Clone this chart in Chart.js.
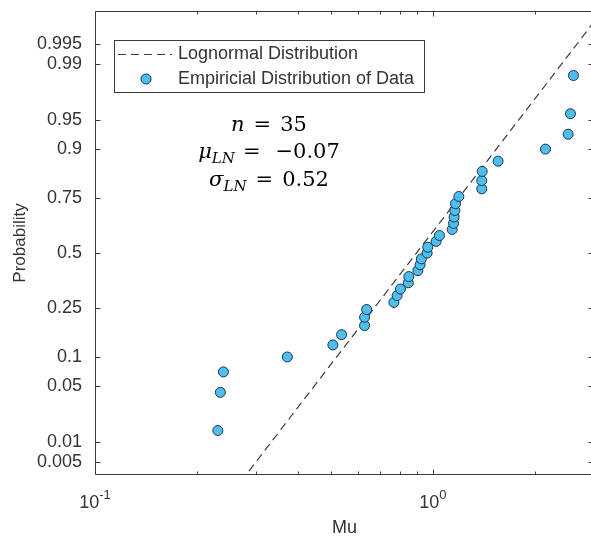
<!DOCTYPE html>
<html>
<head>
<meta charset="utf-8">
<script src="https://cdn.jsdelivr.net/npm/chart.js@4"></script>
<style>
html,body{margin:0;padding:0;overflow:hidden;background:#fff}
#wrap{width:600px;height:537px}
</style>
</head>
<body>
<div id="wrap"><canvas id="c" width="600" height="537"></canvas></div>
<script>
// ---------- data ----------
const muValues = [0.231, 0.235, 0.240, 0.371, 0.506, 0.537, 0.628, 0.628, 0.637, 0.767,
                  0.784, 0.802, 0.846, 0.849, 0.903, 0.917, 0.925, 0.962, 0.966, 1.023,
                  1.046, 1.141, 1.152, 1.156, 1.162, 1.167, 1.194, 1.396, 1.396, 1.400,
                  1.560, 2.155, 2.515, 2.555, 2.608];
const empiricalProb = [0.0143, 0.0429, 0.0714, 0.1000, 0.1286, 0.1571, 0.1857, 0.2143, 0.2429, 0.2714,
                       0.3000, 0.3286, 0.3571, 0.3857, 0.4143, 0.4429, 0.4714, 0.5000, 0.5286, 0.5571,
                       0.5857, 0.6143, 0.6429, 0.6714, 0.7000, 0.7286, 0.7571, 0.7857, 0.8143, 0.8429,
                       0.8714, 0.9000, 0.9286, 0.9571, 0.9857];
const lognormalLineMu = [0.2856, 3.0];
const lognormalLineProb = [0.00359, 0.99782];
const seriesLabels = ['Lognormal Distribution', 'Empiricial Distribution of Data'];
const yTickProbs = [0.005, 0.01, 0.05, 0.1, 0.25, 0.5, 0.75, 0.9, 0.95, 0.99, 0.995];
const yTickLabels = ['0.005', '0.01', '0.05', '0.1', '0.25', '0.5', '0.75', '0.9', '0.95', '0.99', '0.995'];
const yRangeProb = [0.0031, 0.99858];
const xRange = [0.1, 3];
const xMajorTicks = [0.1, 1];
const xMajorExponents = ['-1', '0'];
const xMinorTicks = [0.2, 0.3, 0.4, 0.5, 0.6, 0.7, 0.8, 0.9, 2, 3];
const statN = '35';
const statMu = '\u22120.07';
const statSigma = '0.52';

// ---------- helpers ----------
function probit(p) {
  const a=[-3.969683028665376e+01,2.209460984245205e+02,-2.759285104469687e+02,1.383577518672690e+02,-3.066479806614716e+01,2.506628277459239e+00];
  const b=[-5.447609879822406e+01,1.615858368580409e+02,-1.556989798598866e+02,6.680131188771972e+01,-1.328068155288572e+01];
  const c=[-7.784894002430293e-03,-3.223964580411365e-01,-2.400758277161838e+00,-2.549732539343734e+00,4.374664141464968e+00,2.938163982698783e+00];
  const d=[7.784695709041462e-03,3.224671290700398e-01,2.445134137142996e+00,3.754408661907416e+00];
  const pl=0.02425, ph=1-pl; let q, r;
  if (p < pl) { q=Math.sqrt(-2*Math.log(p)); return (((((c[0]*q+c[1])*q+c[2])*q+c[3])*q+c[4])*q+c[5])/((((d[0]*q+d[1])*q+d[2])*q+d[3])*q+1); }
  if (p <= ph) { q=p-0.5; r=q*q; return (((((a[0]*r+a[1])*r+a[2])*r+a[3])*r+a[4])*r+a[5])*q/(((((b[0]*r+b[1])*r+b[2])*r+b[3])*r+b[4])*r+1); }
  q=Math.sqrt(-2*Math.log(1-p)); return -(((((c[0]*q+c[1])*q+c[2])*q+c[3])*q+c[4])*q+c[5])/((((d[0]*q+d[1])*q+d[2])*q+d[3])*q+1);
}

const AXIS = '#3a3a3a';
const TEXT = '#333333';
const SANS = '"Liberation Sans", Arial, sans-serif';
const SERIF = '"DejaVu Serif", "Liberation Serif", serif';

const scatterData = muValues.map((x, i) => ({ x: x, y: probit(empiricalProb[i]) }));
const lineData = lognormalLineMu.map((x, i) => ({ x: x, y: probit(lognormalLineProb[i]) }));

const decorPlugin = {
  id: 'decor',
  afterDraw(chart) {
    const ctx = chart.ctx;
    const xs = chart.scales.x, ys = chart.scales.y;
    const L = Math.round(xs.left) + 0.5, R = Math.round(xs.right) - 0.5;
    const T = Math.round(ys.top) + 0.5, B = Math.round(ys.bottom) - 0.5;
    ctx.save();
    ctx.strokeStyle = AXIS; ctx.lineWidth = 1; ctx.setLineDash([]);
    // box
    ctx.beginPath();
    ctx.moveTo(L, T); ctx.lineTo(R, T); ctx.lineTo(R, B); ctx.lineTo(L, B); ctx.closePath();
    ctx.stroke();
    // y ticks (left and right, inward)
    ctx.beginPath();
    ys.ticks.forEach(t => {
      const y = Math.round(ys.getPixelForValue(t.value)) + 0.5;
      ctx.moveTo(L, y); ctx.lineTo(L + 5, y);
      ctx.moveTo(R, y); ctx.lineTo(R - 5, y);
    });
    // x ticks (bottom and top, inward)
    xs.ticks.forEach(t => {
      const x = Math.round(xs.getPixelForValue(t.value)) + 0.5;
      const len = xMajorTicks.includes(t.value) ? 5 : 3;
      ctx.moveTo(x, B); ctx.lineTo(x, B - len);
      ctx.moveTo(x, T); ctx.lineTo(x, T + len);
    });
    ctx.stroke();

    // x tick labels with superscripts
    ctx.fillStyle = TEXT;
    ctx.textBaseline = 'alphabetic';
    xMajorTicks.forEach((v, i) => {
      const x = xs.getPixelForValue(v);
      ctx.font = '18px ' + SANS;
      const wBase = ctx.measureText('10').width;
      ctx.font = '13px ' + SANS;
      const wExp = ctx.measureText(xMajorExponents[i]).width;
      const start = x - (wBase + wExp) / 2;
      ctx.textAlign = 'left';
      ctx.font = '18px ' + SANS;
      ctx.fillText('10', start, 508);
      ctx.font = '13px ' + SANS;
      ctx.fillText(xMajorExponents[i], start + wBase, 499);
    });

    // legend
    const lx = 114.5, ly = 40.5, lw = 310, lh = 52;
    ctx.fillStyle = '#ffffff';
    ctx.fillRect(lx, ly, lw, lh);
    ctx.strokeStyle = AXIS;
    ctx.strokeRect(lx, ly, lw, lh);
    const dsLine = chart.data.datasets[1], dsPts = chart.data.datasets[0];
    const row1 = 54, row2 = 79;
    ctx.strokeStyle = dsLine.borderColor; ctx.lineWidth = dsLine.borderWidth;
    ctx.setLineDash(dsLine.borderDash);
    ctx.beginPath(); ctx.moveTo(118, row1 + 0.5); ctx.lineTo(172, row1 + 0.5); ctx.stroke();
    ctx.setLineDash([]);
    ctx.beginPath(); ctx.arc(146, row2, dsPts.pointRadius, 0, Math.PI * 2);
    ctx.fillStyle = dsPts.backgroundColor; ctx.fill();
    ctx.strokeStyle = dsPts.borderColor; ctx.lineWidth = dsPts.borderWidth; ctx.stroke();
    ctx.fillStyle = TEXT; ctx.font = '18px ' + SANS;
    ctx.textAlign = 'left'; ctx.textBaseline = 'middle';
    ctx.fillText(dsLine.label, 178, row1);
    ctx.fillText(dsPts.label, 178, row2);

    // statistics annotation
    ctx.textBaseline = 'alphabetic';
    ctx.fillStyle = '#000000';
    const cx = 269;
    const lines = [
      { y: 131, parts: [ {t: 'n', f: 'italic 21px ' + SERIF}, {g: 9}, {t: '=', f: '21px ' + SERIF}, {g: 9}, {t: statN, f: '21px ' + SERIF} ] },
      { y: 158, parts: [ {t: '\u03bc', f: 'italic 21px ' + SERIF}, {t: 'LN', f: 'italic 15px ' + SERIF, dy: 5}, {g: 8}, {t: '=', f: '21px ' + SERIF}, {g: 15}, {t: statMu, f: '21px ' + SERIF} ] },
      { y: 186, parts: [ {t: '\u03c3', f: 'italic 21px ' + SERIF}, {t: 'LN', f: 'italic 15px ' + SERIF, dy: 5}, {g: 9}, {t: '=', f: '21px ' + SERIF}, {g: 9}, {t: statSigma, f: '21px ' + SERIF} ] }
    ];
    lines.forEach(line => {
      let w = 0;
      line.parts.forEach(p => { if (p.g) { w += p.g; } else { ctx.font = p.f; p.w = ctx.measureText(p.t).width; w += p.w; } });
      let x = cx - w / 2;
      ctx.textAlign = 'left';
      line.parts.forEach(p => {
        if (p.g) { x += p.g; return; }
        ctx.font = p.f;
        ctx.fillText(p.t, x, line.y + (p.dy || 0));
        x += p.w;
      });
    });
    ctx.restore();
  }
};

new Chart(document.getElementById('c'), {
  type: 'scatter',
  data: {
    datasets: [
      {
        label: seriesLabels[1],
        data: scatterData,
        pointRadius: 5,
        pointHoverRadius: 5,
        backgroundColor: '#4DBEEE',
        borderColor: '#1c3348',
        borderWidth: 1,
        order: 0
      },
      {
        label: seriesLabels[0],
        data: lineData,
        showLine: true,
        pointRadius: 0,
        pointHoverRadius: 0,
        borderColor: '#3c3c3c',
        borderWidth: 1.2,
        borderDash: [8, 5],
        fill: false,
        order: 1
      }
    ]
  },
  plugins: [decorPlugin],
  options: {
    responsive: false,
    animation: false,
    events: [],
    devicePixelRatio: 1,
    layout: { padding: { top: 11, right: 5, left: 0, bottom: 0 } },
    plugins: { legend: { display: false }, tooltip: { enabled: false } },
    scales: {
      x: {
        type: 'logarithmic',
        position: 'bottom',
        min: xRange[0],
        max: xRange[1],
        bounds: 'data',
        grid: { display: false, drawTicks: false },
        border: { display: false },
        ticks: { display: false },
        afterBuildTicks: s => { s.ticks = xMajorTicks.concat(xMinorTicks).map(v => ({ value: v })); },
        afterFit: s => { s.height = 62; s.paddingLeft = 0; s.paddingRight = 0; s.paddingTop = 0; s.paddingBottom = 0; },
        title: { display: true, text: 'Mu', color: TEXT, font: { family: SANS, size: 18, lineHeight: 1.05 }, padding: { top: 0, bottom: 0 } }
      },
      y: {
        type: 'linear',
        position: 'left',
        min: probit(yRangeProb[0]),
        max: probit(yRangeProb[1]),
        bounds: 'data',
        grid: { display: false, drawTicks: false },
        border: { display: false },
        afterBuildTicks: s => { s.ticks = yTickProbs.map(p => ({ value: probit(p) })); },
        ticks: {
          autoSkip: false,
          padding: 13,
          color: TEXT,
          font: { family: SANS, size: 18 },
          callback: (v, i) => yTickLabels[i]
        },
        afterFit: s => { s.width = 95; s.paddingTop = 0; s.paddingBottom = 0; s.paddingLeft = 0; s.paddingRight = 0; },
        title: { display: true, text: 'Probability', color: TEXT, font: { family: SANS, size: 17 }, padding: { top: 10, bottom: 0 } }
      }
    }
  }
});
</script>
</body>
</html>
